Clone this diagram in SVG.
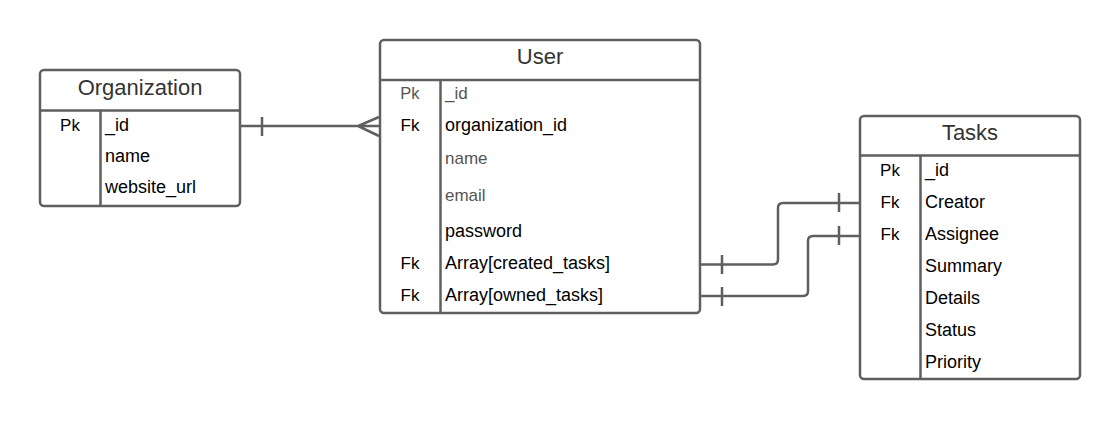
<svg xmlns="http://www.w3.org/2000/svg" width="1120" height="421" viewBox="0 0 1120 421">
<style>
.box{fill:#fff;stroke:#5f5f5f;stroke-width:2.5}
.ln{fill:none;stroke:#5f5f5f;stroke-width:2.5}
.t{font-family:"Liberation Sans",Arial,sans-serif;font-size:22px;fill:#333;text-anchor:middle}
.f{font-family:"Liberation Sans",Arial,sans-serif;font-size:18px;fill:#000}
.k{font-family:"Liberation Sans",Arial,sans-serif;font-size:17px;fill:#000;text-anchor:middle}
.g{font-family:"Liberation Sans",Arial,sans-serif;font-size:17px;fill:#555}
.gk{font-family:"Liberation Sans",Arial,sans-serif;font-size:16.5px;fill:#555;text-anchor:middle}
</style>
<rect width="1120" height="421" fill="#fff"/>
<g id="organization">
<rect class="box" x="40" y="70" width="200" height="136" rx="4"/>
<path class="ln" d="M40,110.5 H240 M100.5,110.5 V206"/>
<text class="t" x="140" y="95">Organization</text>
<text class="k" x="70" y="131">Pk</text>
<text class="f" x="105" y="131">_id</text>
<text class="f" x="105" y="162">name</text>
<text class="f" x="105" y="193">website_url</text>
</g>
<g id="user">
<rect class="box" x="380" y="40" width="320" height="273" rx="4"/>
<path class="ln" d="M380,80 H700 M440.5,80 V313"/>
<text class="t" x="540" y="64">User</text>
<text class="gk" x="410" y="98.5">Pk</text>
<text class="g" x="445" y="98.5">_id</text>
<text class="k" x="410" y="130.5">Fk</text>
<text class="f" x="445" y="130.5">organization_id</text>
<text class="g" x="445" y="164">name</text>
<text class="g" x="445" y="201">email</text>
<text class="f" x="445" y="236.5">password</text>
<text class="k" x="410" y="268.5">Fk</text>
<text class="f" x="445" y="268.5">Array[created_tasks]</text>
<text class="k" x="410" y="300.5">Fk</text>
<text class="f" x="445" y="300.5">Array[owned_tasks]</text>
</g>
<g id="tasks">
<rect class="box" x="860" y="116" width="220" height="263" rx="4"/>
<path class="ln" d="M860,155.5 H1080 M920.5,155.5 V379"/>
<text class="t" x="970" y="140">Tasks</text>
<text class="k" x="890" y="175.5">Pk</text>
<text class="f" x="925" y="175.5">_id</text>
<text class="k" x="890" y="207.5">Fk</text>
<text class="f" x="925" y="207.5">Creator</text>
<text class="k" x="890" y="239.5">Fk</text>
<text class="f" x="925" y="239.5">Assignee</text>
<text class="f" x="925" y="271.5">Summary</text>
<text class="f" x="925" y="303.5">Details</text>
<text class="f" x="925" y="335.5">Status</text>
<text class="f" x="925" y="367.5">Priority</text>
</g>
<g id="connectors">
<path class="ln" d="M241,126 H379 M262,117 V136 M379,117 L358,126 L379,136"/>
<path class="ln" d="M701,264.5 H773 Q778,264.5 778,259.5 V208 Q778,203 783,203 H860 M722,255 V274 M839,193 V212"/>
<path class="ln" d="M701,296 H803 Q808,296 808,291 V241 Q808,236 813,236 H860 M722,287 V306 M839,226 V245"/>
</g>
</svg>
